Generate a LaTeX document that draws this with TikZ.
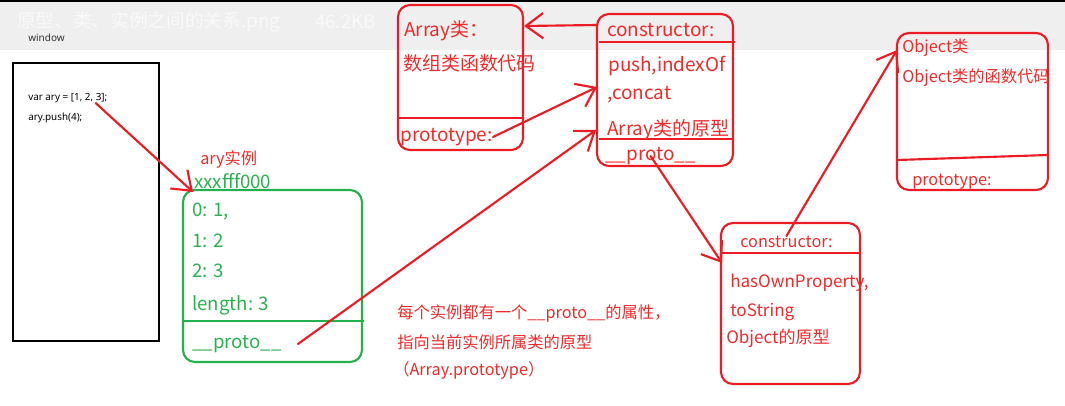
\documentclass[tikz,border=0pt]{standalone}
\usepackage{fontspec}
\setmainfont{Noto Sans CJK SC}
\newfontfamily\uifont{Noto Sans}
\usetikzlibrary{arrows.meta}
\definecolor{paintred}{HTML}{ED1C24}
\definecolor{painttext}{HTML}{F02A2A}
\definecolor{paintgreen}{HTML}{22B14C}
\definecolor{greentext}{HTML}{2DB050}
\definecolor{bargray}{HTML}{EFEFEF}
\definecolor{titlewhite}{HTML}{FAFAFA}
\definecolor{uigray}{HTML}{333333}
\tikzset{
  >={Straight Barb[length=13pt,width=19pt]},
  every node/.style={inner sep=0pt,anchor=west},
  box/.style={draw=paintred,line width=1.6pt,rounded corners=9pt,anchor=center},
  gbox/.style={box,draw=paintgreen},
  winbox/.style={draw=black,line width=1.6pt,fill=white,anchor=center},
  rtext/.style={text=painttext,font=\fontsize{14.2}{16}\selectfont},
  stext/.style={text=painttext,font=\fontsize{12.2}{14}\selectfont},
  gtext/.style={text=greentext,font=\fontsize{14}{16}\selectfont},
  code/.style={text=black,font=\uifont\fontsize{7.4}{9}\selectfont},
  rline/.style={draw=paintred,line width=1.6pt},
  gline/.style={draw=paintgreen,line width=1.6pt},
  arr/.style={->,draw=paintred,line width=1.6pt,line cap=round}
}
\begin{document}
\begin{tikzpicture}[x=0.75pt,y=-0.75pt]
  \useasboundingbox (0,0) rectangle (1065,405);
  % title bar
  \fill[black] (0,0) rectangle (1065,2);
  \fill[bargray] (0,2) rectangle (1065,50);
  \node[text=titlewhite,font=\fontsize{14}{16}\selectfont] (title) at (17,22) {原型、类、实例之间的关系.png};
  \node[text=titlewhite,font=\fontsize{14}{16}\selectfont] (size) at (315,22) {46.2KB};
  \node[text=uigray,font=\uifont\fontsize{7.5}{9}\selectfont] (window) at (28,38) {window};

  % window with code
  \node[winbox,minimum width=109.5pt,minimum height=208.5pt] (win) at (86,202) {};
  \node[code] (code1) at (28,98) {var ary = [1, 2, 3];};
  \node[code] (code2) at (28,118) {ary.push(4);};

  % instance
  \node[stext] (inst) at (200,160) {ary实例};
  \node[gtext] (addr) at (194,181) {xxxfff000};
  \node[gbox,minimum width=134.25pt,minimum height=129pt] (ary) at (272.5,276) {};
  \draw[gline] (183,321) -- (364,321);
  \node[gtext] (item0) at (192,211) {0: 1,};
  \node[gtext] (item1) at (192,241) {1: 2};
  \node[gtext] (item2) at (192,271) {2: 3};
  \node[gtext] (len) at (192,305) {length: 3};
  \node[gtext] (gproto) at (192,344) {\_\_proto\_\_};

  % Array class
  \node[box,minimum width=93.75pt,minimum height=108.75pt] (arrcls) at (460.5,77.5) {};
  \draw[rline] (398,118) -- (523,118);
  \node[rtext] (arrname) at (404,31) {Array类：};
  \node[rtext] (arrcode) at (403,63) {数组类函数代码};
  \node[rtext] (aproto) at (400,137) {prototype:};

  % Array prototype
  \node[box,minimum width=102pt,minimum height=114pt] (arrpro) at (665,90) {};
  \draw[rline] (599,42) -- (735,42);
  \draw[rline] (599,139) -- (733,139);
  \node[rtext] (pcons) at (607,30) {constructor:};
  \node[rtext] (pmeth1) at (608,66) {push,indexOf};
  \node[rtext] (pmeth2) at (607,95) {,concat};
  \node[rtext] (pname) at (607,130) {Array类的原型};
  \node[rtext] (pproto) at (605,156) {\_\_proto\_\_};

  % Object prototype
  \node[box,minimum width=104.25pt,minimum height=120.75pt] (objpro) at (790.5,303.5) {};
  \draw[rline] (721,253) -- (860,253);
  \node[stext] (ocons) at (740,242) {constructor:};
  \node[stext,font=\fontsize{12.8}{14}\selectfont] (ometh1) at (730,283) {hasOwnProperty,};
  \node[stext,font=\fontsize{12.8}{14}\selectfont] (ometh2) at (730,312) {toString};
  \node[stext,font=\fontsize{12.8}{14}\selectfont] (oname) at (726,338) {Object的原型};

  % Object class
  \node[box,minimum width=113.25pt,minimum height=117.75pt] (objcls) at (972.5,111.5) {};
  \draw[rline] (897,160) -- (1048,155);
  \node[stext] (oclsname) at (902,48) {Object类};
  \node[stext] (oclscode) at (902,78) {Object类的函数代码};
  \node[stext] (oproto) at (912,182) {prototype:};

  % note
  \node[stext] (note1) at (397,313) {每个实例都有一个\_\_proto\_\_的属性，};
  \node[stext] (note2) at (397,342) {指向当前实例所属类的原型};
  \node[stext] (note3) at (393,370) {（Array.prototype）};

  % arrow ends
  \coordinate (arytip) at (193,192);
  \coordinate (protip) at (597,87);
  \coordinate (protip2) at (596,130);
  \coordinate (objtip) at (722,263);
  \coordinate (clstip) at (897,50);

  \draw[arr] ([xshift=-9pt]code1.south east) -- (arytip);
  \draw[arr] ([xshift=12pt]gproto.east) -- (protip2);
  \draw[arr] (aproto.east) -- (protip);
  \draw[arr] (arrpro.west |- 0,25) -- (arrcls.east |- 0,26);
  \draw[arr] (pproto.center) -- (objtip);
  \draw[arr] (ocons.north) -- (clstip);
\end{tikzpicture}
\end{document}
